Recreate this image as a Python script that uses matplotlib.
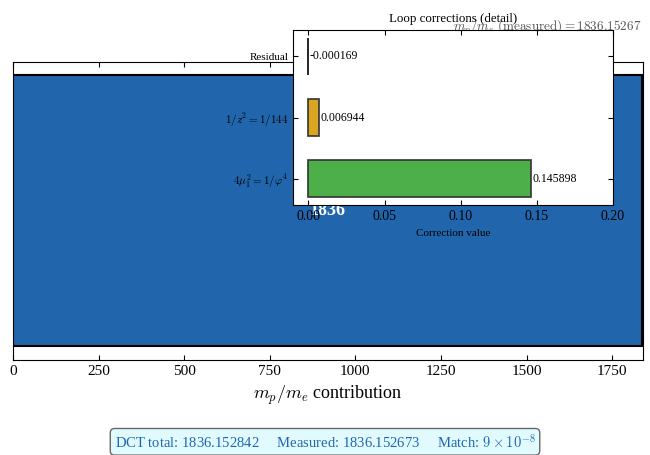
import matplotlib
matplotlib.use("Agg")
import matplotlib.pyplot as plt

plt.rcParams["font.family"] = ["Liberation Serif", "DejaVu Serif"]
plt.rcParams["mathtext.fontset"] = "cm"
plt.rcParams["xtick.direction"] = "in"
plt.rcParams["ytick.direction"] = "in"
plt.rcParams["xtick.top"] = True
plt.rcParams["ytick.right"] = True

# main contribution and measured value
base_value = 1836
measured = 1836.15267
dct_total = 1836.152842
measured_box = 1836.152673

# loop corrections (inset)
corr_labels = [r"$4\mu_1^2 = 1/\varphi^4$", r"$1/z^2 = 1/144$", "Residual"]
corr_values = [0.145898, 0.006944, -0.000169]
corr_colors = ["#4daf4a", "#daa520", "#888888"]
corr_edges = ["#333333", "#333333", "black"]

fig = plt.figure(figsize=(6.5, 4.55), dpi=100)
ax = fig.add_axes([0.02, 0.209, 0.969, 0.655])

ax.barh([0], [base_value], height=0.8, color="#2166ac", edgecolor="black", linewidth=1.5)
ax.text(base_value / 2, 0, str(base_value), color="white", fontsize=13,
        fontweight="bold", ha="center", va="center")
ax.set_xlim(0, measured * 1.002)
ax.set_yticks([])
ax.set_xticks([0, 250, 500, 750, 1000, 1250, 1500, 1750])
ax.tick_params(axis="x", labelsize=11)
ax.set_xlabel(r"$m_p/m_e$ contribution", fontsize=13)
ax.text(measured, 1.083, r"$m_p/m_e\ \mathrm{(measured)} = 1836.15267$",
        transform=ax.get_xaxis_transform(), ha="right", va="bottom",
        fontsize=9.5, color="#555555")

# inset with loop corrections
axin = fig.add_axes([0.451, 0.549, 0.492, 0.385])
ypos = range(len(corr_values))
axin.barh(ypos, corr_values, height=0.6, color=corr_colors,
          edgecolor=corr_edges, linewidth=1.2)
for y, v in zip(ypos, corr_values):
    axin.text(max(v, 0) + 0.001, y, f"{v:.6f}", va="center", fontsize=8.5)
axin.set_yticks(list(ypos))
axin.set_yticklabels(corr_labels, fontsize=8)
axin.set_xlim(-0.01, 0.2)
axin.tick_params(axis="x", labelsize=10)
axin.set_xlabel("Correction value", fontsize=8)
axin.set_title("Loop corrections (detail)", fontsize=9.3)

fig.text(0.5, 0.029,
         f"DCT total: {dct_total:.6f}     Measured: {measured_box:.6f}     "
         r"Match: $9\times10^{-8}$",
         ha="center", va="center", fontsize=10.5, color="#1f66b0",
         bbox=dict(boxstyle="round,pad=0.3", facecolor="#e0fafd", edgecolor="#666666"))

fig.savefig("out.png", dpi=100)
